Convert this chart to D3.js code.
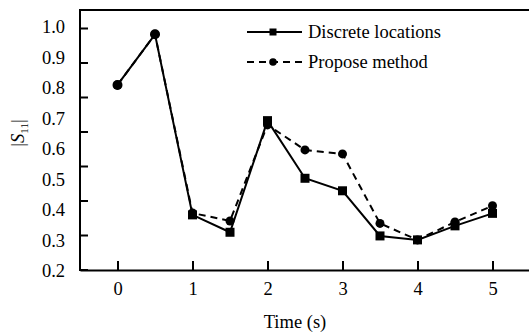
<!DOCTYPE html>
<html><head><meta charset="utf-8">
<script src="https://cdn.jsdelivr.net/npm/d3@7"></script>
<style>body{margin:0;background:#fff}svg{display:block}</style>
</head><body><svg id="c" width="529" height="332"></svg>
<script>
const times = [0, 0.5, 1, 1.5, 2, 2.5, 3, 3.5, 4, 4.5, 5];
const discrete = [0.81, 0.976, 0.384, 0.327, 0.693, 0.504, 0.463, 0.315, 0.302, 0.348, 0.389];
const propose  = [0.81, 0.976, 0.39, 0.364, 0.679, 0.597, 0.584, 0.356, 0.302, 0.361, 0.414];
const xTicks = [0, 1, 2, 3, 4, 5];
const yLabels = [0.2, 0.3, 0.4, 0.5, 0.6, 0.7, 0.8, 0.9, 1.0];
const yTickMarks = [0, 1, 2, 3, 4, 5, 6, 7];
const seriesNames = ["Discrete locations", "Propose method"];
const FONT = "'Liberation Serif', 'Times New Roman', serif";

const svg = d3.select("#c").attr("font-family", FONT);
const L = 80, R = 530, T = 10, B = 270;
const x = d3.scaleLinear().domain([-0.5, 5.5]).range([L, R]);
const y = d3.scaleLinear().domain([0.2, 1.0]).range([271, 27]);
const yt = d3.scaleLinear().domain([0, 7]).range([269.5, 28]);

svg.append("line").attr("x1", L).attr("x2", 529).attr("y1", T).attr("y2", T).attr("stroke", "#000").attr("stroke-width", 2);

const gx = svg.append("g").attr("transform", `translate(0,${B})`)
  .call(d3.axisBottom(x).tickValues(xTicks).tickFormat(d3.format("d")).tickSizeInner(-9).tickSizeOuter(0).tickPadding(12));
gx.attr("font-family", FONT);
gx.select(".domain").attr("stroke-width", 2);
gx.selectAll(".tick line").attr("stroke-width", 2);
gx.selectAll("text").attr("font-size", 18.5).attr("fill", "#000").attr("font-family", FONT);

const gyl = svg.append("g").attr("transform", `translate(${L},0)`)
  .call(d3.axisLeft(y).tickValues(yLabels).tickFormat(d3.format(".1f")).tickSize(0).tickPadding(15));
gyl.attr("font-family", FONT);
gyl.select(".domain").remove();
gyl.selectAll("text").attr("font-size", 18.5).attr("fill", "#000").attr("font-family", FONT);

const gyt = svg.append("g").attr("transform", `translate(${L},0)`)
  .call(d3.axisRight(yt).tickValues(yTickMarks).tickFormat("").tickSize(8).tickSizeOuter(0));
gyt.select(".domain").remove();
gyt.selectAll(".tick line").attr("stroke-width", 2);
svg.append("line").attr("x1", L).attr("x2", L).attr("y1", T - 1).attr("y2", B + 1).attr("stroke", "#000").attr("stroke-width", 2);

svg.append("text").attr("x", 295).attr("y", 328).attr("text-anchor", "middle").attr("font-size", 18.5).attr("font-family", FONT).text("Time (s)");
const yt1 = svg.append("text").attr("transform", "translate(24,133) rotate(-90)").attr("text-anchor", "middle").attr("font-size", 18.5).attr("font-family", FONT);
yt1.append("tspan").text("|");
yt1.append("tspan").attr("font-style", "italic").text("S");
yt1.append("tspan").attr("font-size", 11).attr("dy", 4).text("11");
yt1.append("tspan").attr("dy", -4).text("|");

const line = d3.line().x((d, i) => x(times[i])).y(d => y(d));

svg.append("path").datum(propose).attr("d", line).attr("fill", "none").attr("stroke", "#000").attr("stroke-width", 2).attr("stroke-dasharray", "7,5");
svg.selectAll(".pc").data(propose).join("circle").attr("cx", (d, i) => x(times[i])).attr("cy", d => y(d)).attr("r", 4.5).attr("fill", "#000");

svg.append("path").datum(discrete).attr("d", line).attr("fill", "none").attr("stroke", "#000").attr("stroke-width", 2);
svg.selectAll(".ds").data(discrete.slice(2)).join("rect").attr("x", (d, i) => x(times[i + 2]) - 4.5).attr("y", d => y(d) - 4.5).attr("width", 9).attr("height", 9).attr("fill", "#000");
svg.selectAll(".pc2").data(propose.slice(0, 2)).join("circle").attr("cx", (d, i) => x(times[i])).attr("cy", d => y(d)).attr("r", 5).attr("fill", "#000");

const lg = svg.append("g");
[0, 1].forEach(k => {
  const ly = 32 + k * 30;
  lg.append("line").attr("x1", 247).attr("x2", 302).attr("y1", ly).attr("y2", ly).attr("stroke", "#000").attr("stroke-width", 2)
    .attr("stroke-dasharray", k ? "7,5" : null);
  if (k) lg.append("circle").attr("cx", 273).attr("cy", ly).attr("r", 3.8).attr("fill", "#000");
  else lg.append("rect").attr("x", 269.5).attr("y", ly - 3.5).attr("width", 7).attr("height", 7).attr("fill", "#000");
  lg.append("text").attr("x", 308).attr("y", ly).attr("dy", "0.33em").attr("font-size", 18.5).attr("font-family", FONT).text(seriesNames[k]);
});
</script></body></html>
